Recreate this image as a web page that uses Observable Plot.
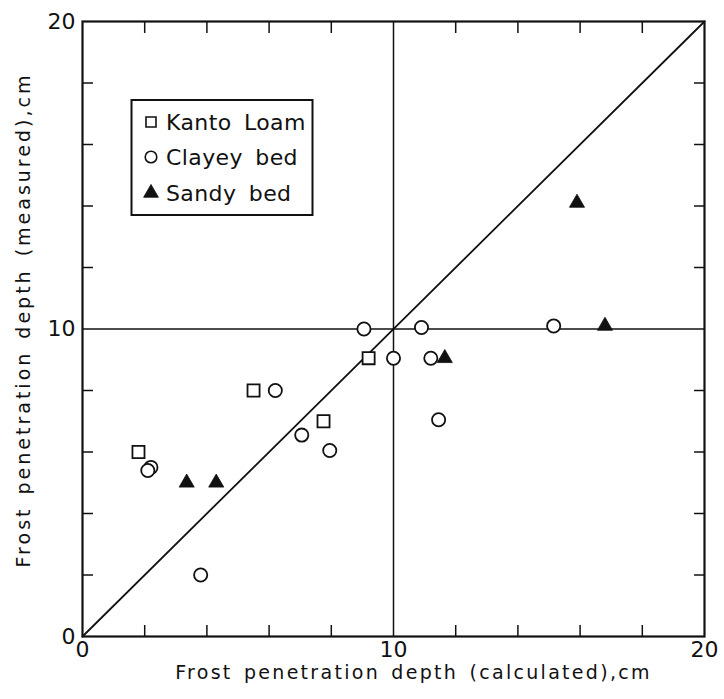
<!DOCTYPE html>
<html>
<head>
<meta charset="utf-8">
<script src="https://cdn.jsdelivr.net/npm/d3@7"></script>
<script src="https://cdn.jsdelivr.net/npm/@observablehq/plot@0.6"></script>
<style>
  html, body { margin: 0; padding: 0; background: #fff; }
  #chart { position: relative; width: 724px; height: 699px; }
  .frost g[aria-label="x-axis label"] text { font-size: 19px; letter-spacing: 2.3px; word-spacing: 3px; }
  .frost g[aria-label="y-axis label"] text { font-size: 19px; letter-spacing: 3px; word-spacing: 3px; }
</style>
</head>
<body>
<div id="chart"></div>
<script>
// Frost penetration depth: calculated (x) vs measured (y), cm
const soils = ["Kanto Loam", "Clayey bed", "Sandy bed"];

const kantoCalc = [1.8, 5.5, 7.75, 9.2];
const kantoMeas = [6.0, 8.0, 7.0, 9.05];

const clayCalc = [9.05, 10.9, 10.0, 11.2, 6.2, 7.05, 7.95, 2.2, 2.1, 11.45, 3.8, 15.15];
const clayMeas = [10.0, 10.05, 9.05, 9.05, 8.0, 6.55, 6.05, 5.5, 5.4, 7.05, 2.0, 10.1];

const sandCalc = [3.35, 4.3, 11.65, 15.9, 16.8];
const sandMeas = [5.0, 5.0, 9.05, 14.1, 10.1];

const labelTicks = [0, 10, 20];
const minorTicks = [2, 4, 6, 8, 12, 14, 16, 18];
const diagonal = [0, 20];
const crossAt = [10];

const rows = (calc, meas, soil) => calc.map((c, i) => ({calc: c, meas: meas[i], soil}));
const kanto = rows(kantoCalc, kantoMeas, soils[0]);
const clay = rows(clayCalc, clayMeas, soils[1]);
const sand = rows(sandCalc, sandMeas, soils[2]);

const ink = "#111";
const noText = () => "";

const chart = Plot.plot({
  width: 724,
  height: 699,
  marginLeft: 82,
  marginRight: 20,
  marginTop: 21,
  marginBottom: 63,
  className: "frost",
  style: {fontFamily: "DejaVu Sans", fontSize: "22px", color: ink, background: "#fff"},
  x: {domain: [0, 20]},
  y: {domain: [0, 20]},
  marks: [
    Plot.ruleX(crossAt, {stroke: ink, strokeWidth: 1.5}),
    Plot.ruleY(crossAt, {stroke: ink, strokeWidth: 1.5}),
    Plot.line(diagonal, {x: d => d, y: d => d, stroke: ink, strokeWidth: 1.8}),
    // inward minor ticks on all four sides
    Plot.axisX({anchor: "bottom", ticks: minorTicks, tickSize: -11, tickFormat: noText, label: null, strokeWidth: 1.5}),
    Plot.axisX({anchor: "top", ticks: minorTicks, tickSize: -11, tickFormat: noText, label: null, strokeWidth: 1.5}),
    Plot.axisY({anchor: "left", ticks: minorTicks, tickSize: -11, tickFormat: noText, label: null, strokeWidth: 1.5}),
    Plot.axisY({anchor: "right", ticks: minorTicks, tickSize: -11, tickFormat: noText, label: null, strokeWidth: 1.5}),
    // labelled ticks and axis titles
    Plot.axisX({anchor: "bottom", ticks: labelTicks, tickSize: 0, tickPadding: 5,
      label: "Frost penetration depth (calculated),cm", labelAnchor: "center", labelArrow: "none", labelOffset: 42, fontSize: 22}),
    Plot.axisY({anchor: "left", ticks: labelTicks, tickSize: 0, tickPadding: 7,
      label: "Frost penetration depth (measured),cm", labelAnchor: "center", labelArrow: "none", labelOffset: 66, fontSize: 22}),
    Plot.dot(kanto, {x: "calc", y: "meas", symbol: "square", r: 6.8, stroke: ink, strokeWidth: 1.8, fill: "#fff"}),
    Plot.dot(clay, {x: "calc", y: "meas", symbol: "circle", r: 6.6, stroke: ink, strokeWidth: 1.8, fill: "#fff"}),
    Plot.dot(sand, {x: "calc", y: "meas", symbol: "triangle", r: 5.6, fill: ink, stroke: ink, strokeWidth: 0.8}),
    Plot.frame({stroke: ink, strokeWidth: 2.2})
  ]
});

document.getElementById("chart").append(chart);

const svg = d3.select(chart.tagName === "svg" ? chart : chart.querySelector("svg"));

// axis titles sit a little off-centre: nudge along the text direction
svg.selectAll('g[aria-label="x-axis label"] text').attr("dx", 20);
svg.selectAll('g[aria-label="y-axis label"] text').attr("dx", 9);

// boxed legend in the upper-left of the plot area
const legend = svg.append("g").attr("class", "legend");
legend.append("rect")
  .attr("x", 131.5).attr("y", 100).attr("width", 181).attr("height", 115)
  .attr("fill", "#fff").attr("stroke", ink).attr("stroke-width", 2);

const legendItems = [
  {label: soils[0], type: d3.symbolSquare, size: 100, fill: "#fff", y: 122},
  {label: soils[1], type: d3.symbolCircle, size: 105, fill: "#fff", y: 157},
  {label: soils[2], type: d3.symbolTriangle, size: 95, fill: ink, y: 193}
];
const item = legend.selectAll("g.item").data(legendItems).join("g")
  .attr("class", "item")
  .attr("transform", d => `translate(0,${d.y})`);
item.append("path")
  .attr("transform", "translate(151,0)")
  .attr("d", d => d3.symbol(d.type, d.size)())
  .attr("fill", d => d.fill)
  .attr("stroke", ink)
  .attr("stroke-width", d => d.fill === ink ? 0.8 : 1.6);
item.append("text")
  .attr("x", 166)
  .attr("dy", "0.36em")
  .attr("text-anchor", "start")
  .attr("font-family", "DejaVu Sans")
  .attr("font-size", 22)
  .attr("letter-spacing", 0.4)
  .attr("word-spacing", 5)
  .attr("fill", ink)
  .text(d => d.label);
</script>
</body>
</html>
